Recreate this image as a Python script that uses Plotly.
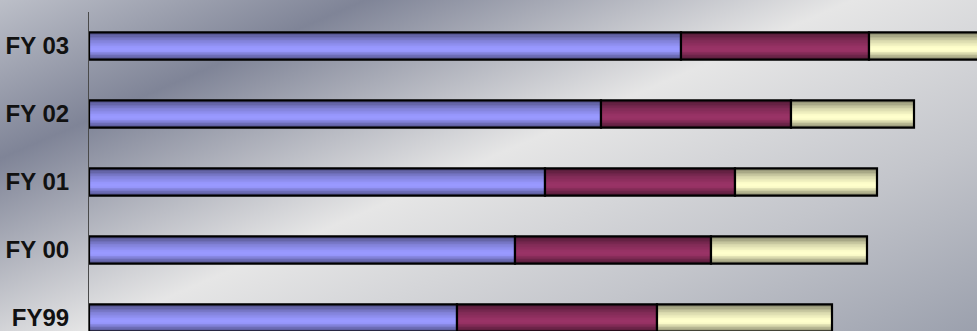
import base64
import numpy as np
import plotly.graph_objects as go

# ---- data ----
categories = ["FY99", "FY 00", "FY 01", "FY 02", "FY 03"]
series_a = [368, 426, 456, 512, 592]   # blue segment
series_b = [200, 196, 190, 190, 188]   # maroon segment
series_c = [175, 156, 142, 123, 120]   # pale yellow segment

colors = ["#9999FF", "#993366", "#FFFFCC"]

W, H = 977, 331
ML, MT = 89, 12
PW, PH = W - ML, H - MT
XMAX = 888
BAR_W = 0.4
YTOP = 4.5
YBOT = YTOP - PH / 68.0


def svg_uri(svg):
    return "data:image/svg+xml;base64," + base64.b64encode(svg.encode()).decode()


bg_svg = f"""<svg xmlns='http://www.w3.org/2000/svg' width='{W}' height='{H}' viewBox='0 0 {W} {H}' preserveAspectRatio='none'>
<defs><linearGradient id='g' gradientUnits='userSpaceOnUse' x1='0' y1='0' x2='276' y2='636'>
<stop offset='0' stop-color='#bcbfc8'/>
<stop offset='0.21' stop-color='#7f8497'/>
<stop offset='0.49' stop-color='#e6e6e6'/>
<stop offset='0.75' stop-color='#c3c5cb'/>
<stop offset='1' stop-color='#9ba0ad'/>
</linearGradient></defs>
<rect x='0' y='0' width='{W}' height='{H}' fill='url(#g)'/></svg>"""

ypos = list(range(len(categories)))
series = [np.array(series_a), np.array(series_b), np.array(series_c)]
bases = [np.zeros(len(categories)), series[0], series[0] + series[1]]
totals = series[0] + series[1] + series[2]

fig = go.Figure()
for vals, base, col in zip(series, bases, colors):
    fig.add_trace(go.Bar(
        y=ypos, x=vals, base=base, orientation="h", width=BAR_W,
        marker=dict(color=col, line=dict(color="#000000", width=2.2)),
        hoverinfo="skip", showlegend=False,
    ))

# vertical shading (dark edges, light centre) drawn as thin translucent stripes
N_STRIPES = 18
stop_pos = [0.0, 0.32, 0.45, 0.70, 1.0]     # 0 = bottom, 1 = top
stop_alpha = [0.5, 0.0, 0.0, 0.16, 0.5]
h = BAR_W / N_STRIPES
for j in range(N_STRIPES):
    t = (j + 0.5) / N_STRIPES
    a = float(np.interp(t, stop_pos, stop_alpha))
    if a <= 0.005:
        continue
    fig.add_trace(go.Bar(
        y=ypos, x=np.minimum(totals, XMAX), base=0, orientation="h",
        width=h * 1.02, offset=-BAR_W / 2 + j * h,
        marker=dict(color=f"rgba(0,0,0,{a:.3f})", line=dict(width=0)),
        hoverinfo="skip", showlegend=False,
    ))

images = [dict(source=svg_uri(bg_svg), xref="paper", yref="paper",
               x=-ML / PW, y=1 + MT / PH, sizex=W / PW, sizey=H / PH,
               xanchor="left", yanchor="top", sizing="stretch", layer="below")]

fig.update_layout(
    width=W, height=H,
    margin=dict(l=ML, r=0, t=MT, b=0, pad=0),
    barmode="overlay",
    paper_bgcolor="#c4c6cc", plot_bgcolor="rgba(0,0,0,0)",
    images=images,
    xaxis=dict(range=[0, XMAX], visible=False, fixedrange=True),
    yaxis=dict(range=[YBOT, YTOP], tickvals=ypos, ticktext=categories,
               showgrid=False, zeroline=False, showline=True,
               linecolor="#4a4a4a", linewidth=1, ticks="",
               ticklabelstandoff=14, automargin=False,
               ticklabeloverflow="allow",
               tickfont=dict(family="Liberation Sans, Arial",
                             size=24, color="#111111", weight="bold")),
)

fig.write_html("out.html")
